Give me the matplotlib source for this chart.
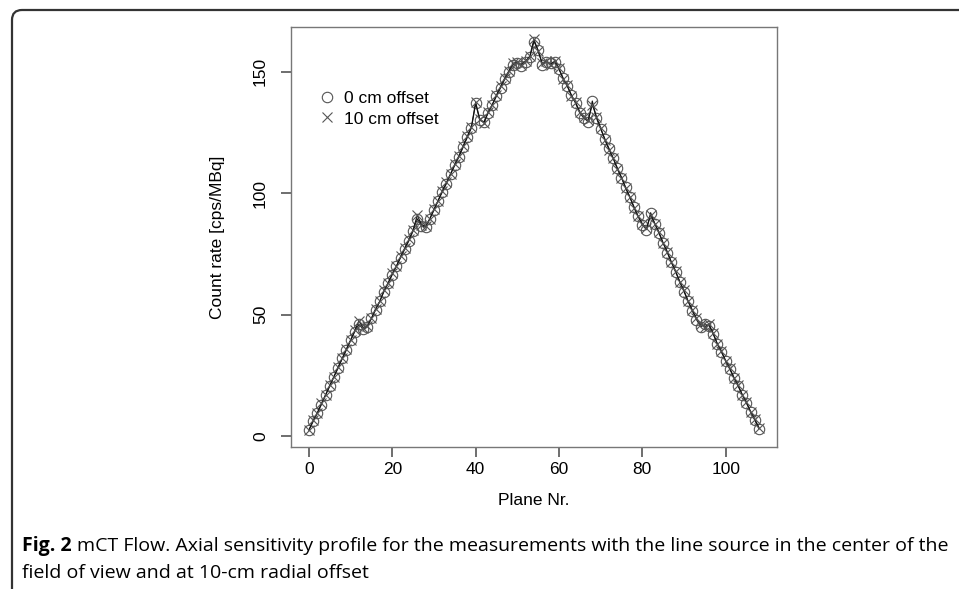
import matplotlib
matplotlib.use("Agg")
import matplotlib.pyplot as plt
from matplotlib.patches import FancyBboxPatch
from matplotlib.transforms import IdentityTransform

# axial sensitivity, planes 0..108
planes = list(range(109))
offset_0cm = [
    2.5, 6, 9.5, 13, 17, 20.5, 24.5, 28, 32, 35.5,
    39.5, 43, 46, 44, 45, 48.5, 52, 55.5, 59.5, 63,
    66.5, 70, 73.5, 77, 80.5, 84.5, 89.5, 86.5, 86, 89.5,
    93, 97, 100.5, 104, 108, 111.5, 115, 119, 123, 127,
    137, 130, 129.5, 133, 136.5, 140, 143.5, 147, 150, 153,
    153.5, 152.5, 154, 156, 162.5, 159, 153, 154, 153.5, 154,
    151, 147.5, 144, 140.5, 137, 133, 131, 129.5, 138, 131,
    126.5, 122.5, 118.5, 114.5, 110.5, 106.5, 102.5, 98.5, 94.5, 90.5,
    87, 85, 92, 87.5, 83.5, 79.5, 75.5, 71.5, 67.5, 63.5,
    59.5, 55.5, 51.5, 48, 45, 46, 45.5, 42, 38, 34.5,
    31, 27.5, 24, 20.5, 17, 13.5, 10, 6.5, 3,
]
offset_10cm = [
    2.5, 6.5, 9.5, 13.5, 17, 21, 24.5, 28.5, 32, 36,
    39.5, 43.5, 47.5, 44.5, 45.5, 48.5, 52.5, 55.5, 60, 63,
    67, 70, 74, 77.5, 81, 85, 91, 87, 86.5, 89.5,
    93.5, 97, 101, 104.5, 108, 112, 115.5, 119.5, 123.5, 127.5,
    137.5, 130.5, 129, 133.5, 136.5, 140.5, 144, 147.5, 150.5, 153.5,
    154, 153, 154.5, 156.5, 163.5, 158.5, 153.5, 154.5, 153, 154.5,
    151.5, 147, 144.5, 140, 137.5, 133.5, 131.5, 130, 136.5, 131.5,
    127, 122, 118, 114.5, 110, 106.5, 102, 98.5, 94, 90.5,
    87.5, 85.5, 91, 87.5, 84, 79.5, 76, 71.5, 68, 63.5,
    60, 55.5, 52, 48.5, 46, 45, 46, 42.5, 38, 35,
    31, 28, 24, 21, 17, 14, 10, 7, 3.5,
]

x_ticks = [0, 20, 40, 60, 80, 100]
y_ticks = [0, 50, 100, 150]

plt.rcParams["font.family"] = ["Liberation Sans", "DejaVu Sans"]

fig = plt.figure(figsize=(9.59, 5.89), dpi=100)
ax = fig.add_axes([0.3034, 0.2411, 0.5068, 0.7131])

ax.plot(planes, offset_0cm, color="#111111", lw=0.8, marker="o", ms=7.5,
        mfc="none", mec="#555555", mew=0.8, label="0 cm offset")
ax.plot(planes, offset_10cm, color="#111111", lw=0.8, marker="x", ms=7.5,
        mec="#555555", mew=0.8, label="10 cm offset")

ax.set_xlim(-4.32, 112.32)
ax.set_ylim(-4.5, 168.5)
ax.set_xticks(x_ticks)
ax.set_yticks(y_ticks)
ax.set_yticklabels([str(v) for v in y_ticks], rotation=90, va="center")
ax.tick_params(direction="out", length=7.5, width=1.2, color="#555555",
               labelsize=12.5, pad=3)
ax.tick_params(axis="y", left=True, pad=9)
for s in ax.spines.values():
    s.set_color("#777777")
    s.set_linewidth(1.0)

ax.set_xlabel("Plane Nr.", fontsize=12.5, labelpad=12)
ax.set_ylabel("Count rate [cps/MBq]", fontsize=12.5, labelpad=20)

leg = ax.legend(loc="upper left", bbox_to_anchor=(0.06, 0.864), frameon=False,
                fontsize=12.5, handlelength=0, handletextpad=1.0,
                labelspacing=0.3, borderaxespad=0)
for h in leg.legend_handles:
    h.set_linestyle("none")

# outer frame with rounded top-left corner
frame = FancyBboxPatch((12, -40), 1000, 589 - 10 + 40,
                       boxstyle="round,pad=0,rounding_size=10",
                       transform=IdentityTransform(), fill=False,
                       ec="#333333", lw=1.6, clip_on=False)
fig.patches.append(frame)

# caption
cap_font = ["Open Sans", "DejaVu Sans"]
cap_size = 14.0
bold = fig.text(22 / 959, 1 - 551 / 589, "Fig. 2", fontsize=cap_size,
                fontweight="bold", family=cap_font, va="baseline")
fig.canvas.draw()
bb = bold.get_window_extent()
fig.text((bb.x1 + 5) / 959, 1 - 551 / 589,
         "mCT Flow. Axial sensitivity profile for the measurements with the "
         "line source in the center of the", fontsize=cap_size, family=cap_font,
         va="baseline")
fig.text(22 / 959, 1 - 578 / 589, "field of view and at 10-cm radial offset",
         fontsize=cap_size, family=cap_font, va="baseline")

fig.savefig("out.png", dpi=100)
